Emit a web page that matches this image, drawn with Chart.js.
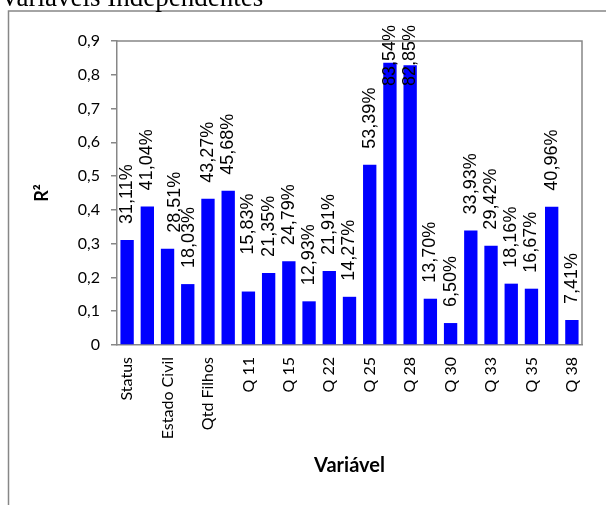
<!DOCTYPE html>
<html>
<head>
<meta charset="utf-8">
<script src="https://cdn.jsdelivr.net/npm/chart.js@4/dist/chart.umd.min.js"></script>
<style>
  html, body { margin: 0; padding: 0; background: #fff; }
  #wrap { position: relative; width: 606px; height: 505px; }
</style>
</head>
<body>
<div id="wrap"><canvas id="chart-r2" width="606" height="505"></canvas></div>
<script>
// variáveis e R² de cada uma (em %)
const variaveis = ['Status', 'Sexo', 'Estado Civil', 'Idade', 'Qtd Filhos', 'Renda',
  'Q 11', 'Q 12', 'Q 15', 'Q 18', 'Q 22', 'Q 24', 'Q 25', 'Q 27', 'Q 28', 'Q 29',
  'Q 30', 'Q 32', 'Q 33', 'Q 34', 'Q 35', 'Q 37', 'Q 38'];
const r2Pct = [31.11, 41.04, 28.51, 18.03, 43.27, 45.68, 15.83, 21.35, 24.79, 12.93,
  21.91, 14.27, 53.39, 83.54, 82.85, 13.70, 6.50, 33.93, 29.42, 18.16, 16.67, 40.96, 7.41];
const yTicks = [0, 0.1, 0.2, 0.3, 0.4, 0.5, 0.6, 0.7, 0.8, 0.9];

// rótulos que foram deslocados à mão
const labelNudge = { 2: { dx: 7, dy: 0 }, 3: { dx: 1, dy: 0 }, 6: { dx: 0, dy: -21 } };

const frameColor = '#878787';

const moldura = {
  id: 'moldura',
  beforeDraw(chart) {
    const ctx = chart.ctx;
    ctx.save();
    ctx.strokeStyle = frameColor;
    ctx.lineWidth = 1.5;
    ctx.beginPath();
    ctx.moveTo(8.5, 520);
    ctx.lineTo(8.5, 11);
    ctx.lineTo(620, 11);
    ctx.stroke();
    ctx.font = '27px "Liberation Serif", "Times New Roman", serif';
    ctx.fillStyle = '#000';
    ctx.textBaseline = 'alphabetic';
    ctx.fillText('Variáveis Independentes', 0, 6);
    ctx.restore();
  },
  afterDraw(chart) {
    const a = chart.chartArea;
    const ctx = chart.ctx;
    ctx.save();
    ctx.strokeStyle = frameColor;
    ctx.lineWidth = 1.5;
    ctx.beginPath();
    ctx.moveTo(a.left, a.top);
    ctx.lineTo(a.right, a.top);
    ctx.lineTo(a.right, a.bottom);
    ctx.stroke();
    ctx.restore();
  }
};

const rotulos = {
  id: 'rotulos',
  afterDatasetsDraw(chart) {
    const ctx = chart.ctx;
    const meta = chart.getDatasetMeta(0);
    ctx.save();
    ctx.font = '18px "Liberation Sans", Arial, sans-serif';
    ctx.fillStyle = '#000';
    ctx.textAlign = 'left';
    ctx.textBaseline = 'middle';
    meta.data.forEach((bar, i) => {
      const txt = r2Pct[i].toFixed(2).replace('.', ',') + '%';
      const w = ctx.measureText(txt).width;
      const n = labelNudge[i] || { dx: 0, dy: 0 };
      let base = bar.y - 16 + n.dy;
      if (base - w < 25) base = 25 + w;
      ctx.save();
      ctx.translate(bar.x + n.dx, base);
      ctx.rotate(-Math.PI / 2);
      ctx.fillText(txt, 0, 0);
      ctx.restore();
    });
    ctx.restore();
  }
};

const tickFont = { family: 'Lato, "Open Sans", sans-serif', size: 16 };

new Chart(document.getElementById('chart-r2'), {
  type: 'bar',
  data: {
    labels: variaveis,
    datasets: [{
      label: 'R²',
      data: r2Pct.map(v => v / 100),
      backgroundColor: '#0000ff',
      barPercentage: 0.66,
      categoryPercentage: 1
    }]
  },
  options: {
    responsive: false,
    animation: false,
    layout: { padding: { left: 31, right: 24, top: 41, bottom: 25 } },
    plugins: { legend: { display: false }, tooltip: { enabled: false } },
    scales: {
      x: {
        grid: { display: false, drawTicks: false },
        border: { display: true, color: frameColor, width: 1.5 },
        ticks: {
          autoSkip: false, maxRotation: 90, minRotation: 90, padding: 12,
          color: '#000', font: tickFont,
          callback: (v, i) => (i % 2 === 0 ? variaveis[i] : '')
        },
        title: {
          display: true, text: 'Variável', color: '#000',
          font: { family: 'Lato, "Open Sans", sans-serif', size: 20, weight: 'bold' },
          padding: { top: 0, bottom: 2 }
        },
        afterFit(scale) { scale.height = 135; }
      },
      y: {
        min: 0, max: 0.9,
        afterBuildTicks(scale) { scale.ticks = yTicks.map(v => ({ value: v })); },
        grid: { drawOnChartArea: false, drawTicks: true, tickLength: 6, color: frameColor, lineWidth: 1.5 },
        border: { display: true, color: frameColor, width: 1.5 },
        ticks: {
          padding: 11, color: '#000', font: tickFont,
          callback: v => (v === 0 ? '0' : v.toFixed(1).replace('.', ','))
        },
        title: {
          display: true, text: 'R²', color: '#000',
          font: { family: 'Lato, "Open Sans", sans-serif', size: 18, weight: 'bold' },
          padding: 0
        },
        afterFit(scale) { scale.width = 86; }
      }
    }
  },
  plugins: [moldura, rotulos]
});
</script>
</body>
</html>
